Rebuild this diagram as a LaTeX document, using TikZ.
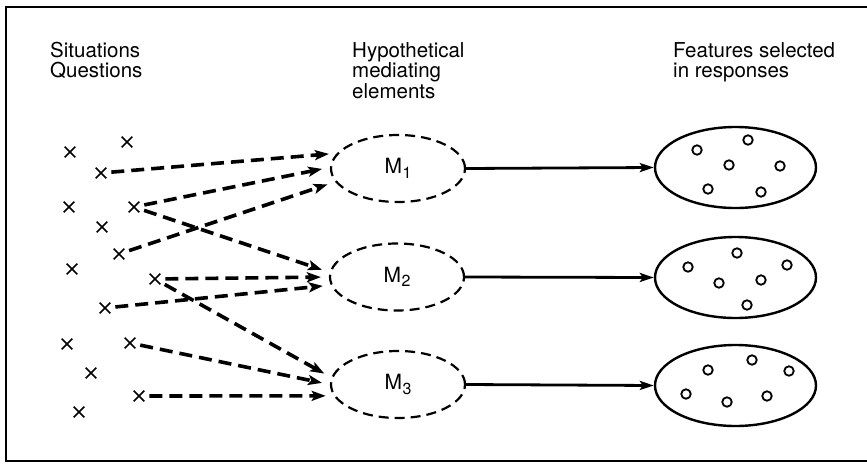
\documentclass[tikz,border=0pt]{standalone}
\usepackage{fontspec}
\setmainfont{TeX Gyre Heros}
\usetikzlibrary{shapes.geometric,shapes.misc,arrows.meta}
\begin{document}
\begin{tikzpicture}[x=1pt,y=-1pt,
  lbl/.style={anchor=base west, inner sep=0, font=\fontsize{20.5}{24}\selectfont},
  xmark/.style={cross out, draw, minimum size=9pt, inner sep=0, line width=1.7pt},
  medel/.style={ellipse, draw, dash pattern=on 10pt off 6pt, line width=2.2pt, minimum width=134pt, minimum height=67pt, inner sep=0, font=\fontsize{21}{21}\selectfont},
  resel/.style={ellipse, draw, line width=2.4pt, minimum width=161pt, minimum height=81pt, inner sep=0},
  rdot/.style={circle, draw, line width=1.8pt, minimum size=9.5pt, inner sep=0},
  darr/.style={line width=3.6pt, dash pattern=on 13pt off 7pt, -{Stealth[length=14pt,width=10pt,inset=3pt]}, shorten <=5pt, shorten >=8pt},
  sarr/.style={line width=2.8pt, -{Stealth[length=14pt,width=9pt,inset=3pt]}},
]
\useasboundingbox (0,0) rectangle (867,463);
% frame
\draw[line width=2.5pt] (867,7) -- (6,7) -- (6,461) -- (867,461);

% headings
\node[lbl] (t1) at (50,57) {Situations};
\node[lbl] (t2) at (50,77) {Questions};
\node[lbl] (t3) at (352,57) {Hypothetical};
\node[lbl] (t4) at (352,77.5) {mediating};
\node[lbl] (t5) at (352,98) {elements};
\node[lbl] (t6) at (673,57) {Features selected};
\node[lbl] (t7) at (673,77) {in responses};

% crosses
\node[xmark] (c1) at (70,152) {};
\node[xmark] (c2) at (127,142) {};
\node[xmark] (c3) at (101,173) {};
\node[xmark] (c4) at (69,207) {};
\node[xmark] (c5) at (134,207) {};
\node[xmark] (c6) at (102,227) {};
\node[xmark] (c7) at (119,254) {};
\node[xmark] (c8) at (72,269) {};
\node[xmark] (c9) at (155,279) {};
\node[xmark] (c10) at (105,308) {};
\node[xmark] (c11) at (67,344) {};
\node[xmark] (c12) at (130,343) {};
\node[xmark] (c13) at (91,373) {};
\node[xmark] (c14) at (139,396) {};
\node[xmark] (c15) at (79,412) {};

% mediating elements
\node[medel] (m1) at (398,168.5) {M\kern0.5pt\raisebox{-4.5pt}{\fontsize{16}{16}\selectfont 1}};
\node[medel] (m2) at (397,277) {M\kern0.5pt\raisebox{-4.5pt}{\fontsize{16}{16}\selectfont 2}};
\node[medel] (m3) at (398,384.5) {M\kern0.5pt\raisebox{-4.5pt}{\fontsize{16}{16}\selectfont 3}};

% response ellipses
\node[resel] (r1) at (735.5,167.5) {};
\node[resel] (r2) at (735.5,277.5) {};
\node[resel] (r3) at (735.5,385.5) {};

% features
\node[rdot] (f11) at (697,150) {};
\node[rdot] (f12) at (748,140) {};
\node[rdot] (f13) at (729,165) {};
\node[rdot] (f14) at (780,166) {};
\node[rdot] (f15) at (708,189) {};
\node[rdot] (f16) at (761,192) {};
\node[rdot] (f21) at (688,267) {};
\node[rdot] (f22) at (737,253) {};
\node[rdot] (f23) at (719,283) {};
\node[rdot] (f24) at (761,280) {};
\node[rdot] (f25) at (787,265) {};
\node[rdot] (f26) at (747,305) {};
\node[rdot] (f31) at (708,370) {};
\node[rdot] (f32) at (752,360) {};
\node[rdot] (f33) at (789,371) {};
\node[rdot] (f34) at (686,394) {};
\node[rdot] (f35) at (727,402) {};
\node[rdot] (f36) at (767,396) {};

% dashed connectors
\draw[darr] (c3) -- (m1.166);
\draw[darr] (c5) -- (m1.179);
\draw[darr] (c7) -- (m1.192);
\draw[darr] (c5) -- (m2.176);
\draw[darr] (c9) -- (m2.180);
\draw[darr] (c10) -- (m2.187);
\draw[darr] (c9) -- (m3.174);
\draw[darr] (c12) -- (m3.180);
\draw[darr] (c14) -- (m3.190);

% solid connectors
\draw[sarr] (m1.east) -- (r1.west);
\draw[sarr] (m2.east) -- (r2.west);
\draw[sarr] (m3.east) -- (r3.west);
\end{tikzpicture}
\end{document}
